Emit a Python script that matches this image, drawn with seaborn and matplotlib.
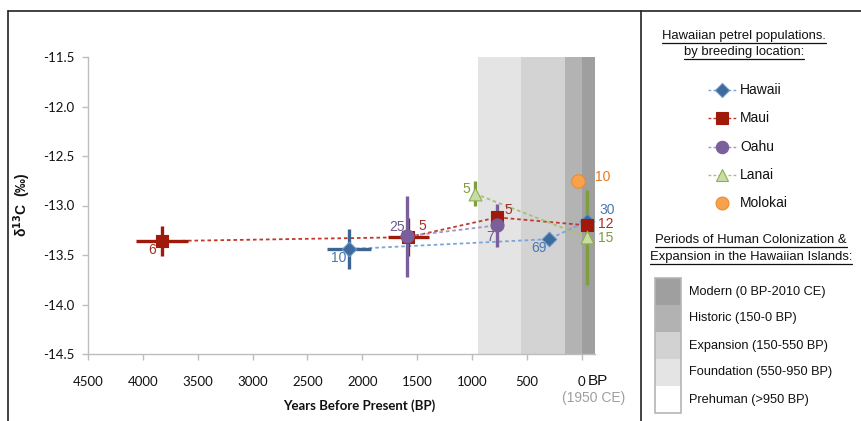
import numpy as np
import pandas as pd
import matplotlib
matplotlib.use("Agg")
import matplotlib.pyplot as plt
import seaborn as sns
from matplotlib.lines import Line2D
from matplotlib.patches import Rectangle

# ---------------- data ----------------
islands = ["Hawaii", "Maui", "Oahu", "Lanai", "Molokai"]

hawaii_bp = [2119, 301, -45]
hawaii_d13c = [-13.44, -13.34, -13.16]
hawaii_n = [10, 69, 30]
hawaii_xerr = [200, 0, 0]
hawaii_yerr = [0.20, 0.03, 0.03]

maui_bp = [3826, 1580, 770, -45]
maui_d13c = [-13.36, -13.32, -13.12, -13.20]
maui_n = [6, 5, 5, 12]
maui_xerr = [240, 185, 0, 0]
maui_yerr = [0.15, 0.19, 0.05, 0.03]

oahu_bp = [1592, 770]
oahu_d13c = [-13.31, -13.20]
oahu_n = [25, 7]
oahu_xerr = [0, 0]
oahu_yerr = [0.41, 0.22]

lanai_bp = [977, -45]
lanai_d13c = [-12.88, -13.32]
lanai_n = [5, 15]
lanai_xerr = [0, 0]
lanai_yerr = [0.13, 0.48]

molokai_bp = [37]
molokai_d13c = [-12.75]
molokai_n = [10]
molokai_xerr = [0]
molokai_yerr = [0.04]

period_labels = ["Modern (0 BP-2010 CE)", "Historic (150-0 BP)", "Expansion (150-550 BP)",
                 "Foundation (550-950 BP)", "Prehuman (>950 BP)"]
period_old = [0, 150, 550, 950]
period_young = [-120, 0, 150, 550]

x_ticks = [4500, 4000, 3500, 3000, 2500, 2000, 1500, 1000, 500, 0]
y_ticks = [-11.5, -12.0, -12.5, -13.0, -13.5, -14.0, -14.5]

# ---------------- styles ----------------
W, H = 862, 421
sns.set_theme(style="white")
plt.rcParams["font.family"] = ["Liberation Sans", "DejaVu Sans"]

series = {
    "Hawaii": dict(bp=hawaii_bp, y=hawaii_d13c, n=hawaii_n, xe=hawaii_xerr, ye=hawaii_yerr,
                   marker="D", s=55, fc="#3d6b9e", ec="#6a95c6", line="#7aa5d8", err="#3c6593",
                   txt="#4a78b0",
                   offs=[(-11, 9), (-10, 9), (20, -11)]),
    "Maui": dict(bp=maui_bp, y=maui_d13c, n=maui_n, xe=maui_xerr, ye=maui_yerr,
                 marker="s", s=72, fc="#a01a0c", ec="#a01a0c", line="#c0392b", err="#a01a0c",
                 txt="#a3302a",
                 offs=[(-10, 9), (14, -11), (11, -7), (19, -1)]),
    "Oahu": dict(bp=oahu_bp, y=oahu_d13c, n=oahu_n, xe=oahu_xerr, ye=oahu_yerr,
                 marker="o", s=88, fc="#7b5f9a", ec="#7b5f9a", line="#a592c6", err="#7b5f9a",
                 txt="#6f5890",
                 offs=[(-10, -9), (-7, 12)]),
    "Lanai": dict(bp=lanai_bp, y=lanai_d13c, n=lanai_n, xe=lanai_xerr, ye=lanai_yerr,
                  marker="^", s=85, fc="#c8dda3", ec="#8eae52", line="#a8c070", err="#7f9e3e",
                  txt="#7f9c3c",
                  offs=[(-8, -5), (19, 1)]),
    "Molokai": dict(bp=molokai_bp, y=molokai_d13c, n=molokai_n, xe=molokai_xerr, ye=molokai_yerr,
                    marker="o", s=95, fc="#f9a24c", ec="#ec8a30", line=None, err="#ec8a30",
                    txt="#e8791e",
                    offs=[(25, -4)]),
}

fig = plt.figure(figsize=(W / 100, H / 100), dpi=100)
fig.patch.set_facecolor("white")

def fx(x):
    return x / W

def fy(y):
    return 1 - y / H

ax_l, ax_r, ax_t, ax_b = 88, 595, 57, 354
ax = fig.add_axes([fx(ax_l), fy(ax_b), (ax_r - ax_l) / W, (ax_b - ax_t) / H])
ax.set_facecolor("white")

# period bands
band_cols = ["#9f9f9f", "#b3b3b3", "#d3d3d3", "#e4e4e4"]
for o, yv, c in zip(period_old, period_young, band_cols):
    ax.axvspan(yv, o, color=c, lw=0, zorder=0)

# connecting dashed lines via seaborn
rows = []
for name in ["Hawaii", "Maui", "Oahu", "Lanai"]:
    d = series[name]
    for b, v in zip(d["bp"], d["y"]):
        rows.append(dict(island=name, bp=b, d13c=v))
df_lines = pd.DataFrame(rows)
sns.lineplot(data=df_lines, x="bp", y="d13c", hue="island", style="island",
             palette={k: series[k]["line"] for k in ["Hawaii", "Maui", "Oahu", "Lanai"]},
             dashes={k: (2, 1.6) for k in ["Hawaii", "Maui", "Oahu", "Lanai"]},
             linewidth=1.3, legend=False, ax=ax, zorder=2, estimator=None, sort=False)

# error bars and markers
for name in islands:
    d = series[name]
    ax.errorbar(d["bp"], d["y"], xerr=d["xe"], yerr=d["ye"], fmt="none",
                ecolor=d["err"], elinewidth=2.4, capsize=0, zorder=3)
for name in islands:
    d = series[name]
    dfp = pd.DataFrame(dict(bp=d["bp"], d13c=d["y"]))
    sns.scatterplot(data=dfp, x="bp", y="d13c", marker=d["marker"], s=d["s"],
                    color=d["fc"], edgecolor=d["ec"], linewidth=0.8, ax=ax, zorder=4,
                    legend=False)
    for b, v, n, (dx, dy) in zip(d["bp"], d["y"], d["n"], d["offs"]):
        ax.annotate(str(n), (b, v), xytext=(dx * 0.72, -dy * 0.72), textcoords="offset points",
                    ha="center", va="center", fontsize=10, color=d["txt"], zorder=5)

ax.set_xlim(4500, -120)
ax.set_ylim(-14.5, -11.5)
ax.set_xticks(x_ticks)
ax.set_xticklabels([str(t) for t in x_ticks], fontfamily="Lato", fontsize=9.5)
ax.set_yticks(y_ticks)
ax.set_yticklabels([f"{t:.1f}" for t in y_ticks], fontfamily="Lato", fontsize=9.5)
ax.set_xlabel("")
ax.set_ylabel("")
for s in ["top", "right"]:
    ax.spines[s].set_visible(False)
for s in ["left", "bottom"]:
    ax.spines[s].set_color("#bdbdbd")
    ax.spines[s].set_linewidth(1.0)
ax.tick_params(axis="both", which="major", direction="out", length=4, width=1.0,
               color="#bdbdbd", labelcolor="#111111")
ax.tick_params(axis="x", pad=12)
ax.tick_params(axis="y", pad=6)
ax.tick_params(left=True, bottom=True)

# axis titles
fig.text(fx(359), fy(406), "Years Before Present (BP)", ha="center", va="center",
         fontsize=9.5, fontweight="bold", fontfamily="Lato", color="#111111")
fig.text(fx(22), fy(205), r"δ$^{\mathbf{13}}$C  (‰)", ha="center", va="center", rotation=90,
         fontsize=10, fontweight="bold", color="#111111")
fig.text(fx(588), fy(381), "BP", ha="left", va="center", fontsize=11, color="#111111")
fig.text(fx(594), fy(398), "(1950 CE)", ha="center", va="center", fontsize=10, color="#a0a0a0")

# frame lines
frame_kw = dict(color="#222222", lw=1.2, transform=fig.transFigure)
fig.add_artist(Line2D([fx(8), fx(8)], [fy(11), 0], **frame_kw))
fig.add_artist(Line2D([fx(8), 1], [fy(11), fy(11)], **frame_kw))
fig.add_artist(Line2D([fx(641), fx(641)], [fy(11), 0], **frame_kw))

# ---------------- legend panel ----------------
titles = [("Hawaiian petrel populations.", 744, 36), ("by breeding location:", 744, 52),
          ("Periods of Human Colonization &", 751, 240), ("Expansion in the Hawaiian Islands:", 751, 257)]
title_texts = []
for t, x, y in titles:
    title_texts.append(fig.text(fx(x), fy(y), t, ha="center", va="center", fontsize=9.4, color="#111111"))

leg_y = {"Hawaii": 90, "Maui": 118, "Oahu": 147, "Lanai": 175, "Molokai": 203}
for name in islands:
    d = series[name]
    y = leg_y[name]
    if d["line"] is not None:
        fig.add_artist(Line2D([fx(708), fx(737)], [fy(y), fy(y)], color=d["line"], lw=1.0,
                              ls=(0, (2, 1.6)), transform=fig.transFigure))
    ms = np.sqrt(d["s"]) * 0.95
    fig.add_artist(Line2D([fx(722)], [fy(y)], marker=d["marker"], markersize=ms,
                          markerfacecolor=d["fc"], markeredgecolor=d["ec"], markeredgewidth=0.8,
                          ls="none", transform=fig.transFigure))
    fig.text(fx(740), fy(y), name, ha="left", va="center", fontsize=10, color="#111111")

# period colour bar
bar_top, bar_h = 278, 27
bar_cols = ["#9f9f9f", "#b2b2b2", "#d2d2d2", "#e4e4e4", "#ffffff"]
for i, (lab, c) in enumerate(zip(period_labels, bar_cols)):
    y0 = bar_top + i * bar_h
    fig.add_artist(Rectangle((fx(655), fy(y0 + bar_h)), (681 - 655) / W, bar_h / H,
                             facecolor=c, edgecolor="none", transform=fig.transFigure))
    fig.text(fx(689), fy(y0 + bar_h / 2), lab, ha="left", va="center", fontsize=9.2, color="#111111")
fig.add_artist(Rectangle((fx(655), fy(bar_top + 5 * bar_h)), (681 - 655) / W, 5 * bar_h / H,
                         facecolor="none", edgecolor="#b5b5b5", lw=1.2, transform=fig.transFigure))

# underline titles
fig.canvas.draw()
r = fig.canvas.get_renderer()
for t in title_texts:
    bb = t.get_window_extent(r)
    yline = bb.y0 - 1
    fig.add_artist(Line2D([bb.x0 / W, bb.x1 / W], [yline / H, yline / H], color="#111111",
                          lw=0.9, transform=fig.transFigure))

fig.savefig("out.png", dpi=100, facecolor="white")
